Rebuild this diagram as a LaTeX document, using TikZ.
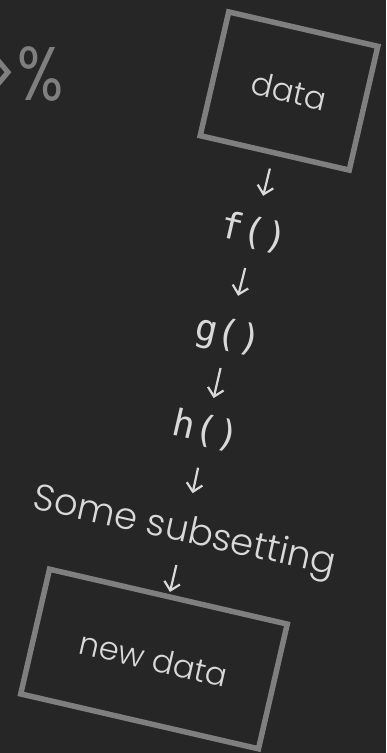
\documentclass[tikz,border=0pt]{standalone}
\usepackage{fontspec}
\setmainfont{Poppins Light}
\newfontfamily\pipefont{Poppins}
\newfontfamily\codefont{DejaVu Sans Mono}
\usetikzlibrary{arrows.meta,calc}
\definecolor{bg}{HTML}{262626}
\definecolor{boxgrey}{HTML}{7F7F7F}
\definecolor{txt}{HTML}{D9D9D9}
\begin{document}
\begin{tikzpicture}[x=1pt,y=-1pt,
  databox/.style={draw=boxgrey,line width=5.5pt,rotate=-13,inner sep=0pt,text=txt,
    font=\fontsize{32}{38}\selectfont},
  lbl/.style={text=txt,font=\fontsize{37}{42}\selectfont,rotate=-12.5,inner sep=0pt},
  code/.style={text=txt,font=\codefont\fontsize{37}{42}\selectfont,rotate=-13,inner sep=0pt},
  arr/.style={draw=txt,line width=2.2pt,-{Straight Barb[length=8pt,width=16pt]}},
  pipe/.style={text=boxgrey,font=\pipefont\fontsize{76}{84}\selectfont,inner sep=0pt,xscale=0.8}]
\fill[bg] (0,0) rectangle (386,753);
\useasboundingbox (0,0) rectangle (386,753);
\begin{scope}
\clip (0,0) rectangle (386,753);
\node[pipe,anchor=east] (pipe) at (64,74) {>\%};
\node[databox,minimum width=153pt,minimum height=127pt] (box1) at (289,91) {data};
\node[code] (f) at (254,233) {f()};
\node[code] (g) at (228,336) {g()};
\node[code] (h) at (206,431) {h()};
\node[lbl] (sub) at (184,533) {Some subsetting};
\node[databox,minimum width=244pt,minimum height=128pt] (box2) at (154,659) {new data};
\draw[arr] ($(box1)!0.546!(f)$) -- ($(box1)!0.738!(f)$);
\draw[arr] ($(f)!0.34!(g)$) -- ($(f)!0.61!(g)$);
\draw[arr] ($(g)!0.337!(h)$) -- ($(g)!0.653!(h)$);
\draw[arr] ($(h)!0.36!(sub)$) -- ($(h)!0.61!(sub)$);
\draw[arr] ($(sub)!0.254!(box2)$) -- ($(sub)!0.468!(box2)$);
\end{scope}
\end{tikzpicture}
\end{document}
